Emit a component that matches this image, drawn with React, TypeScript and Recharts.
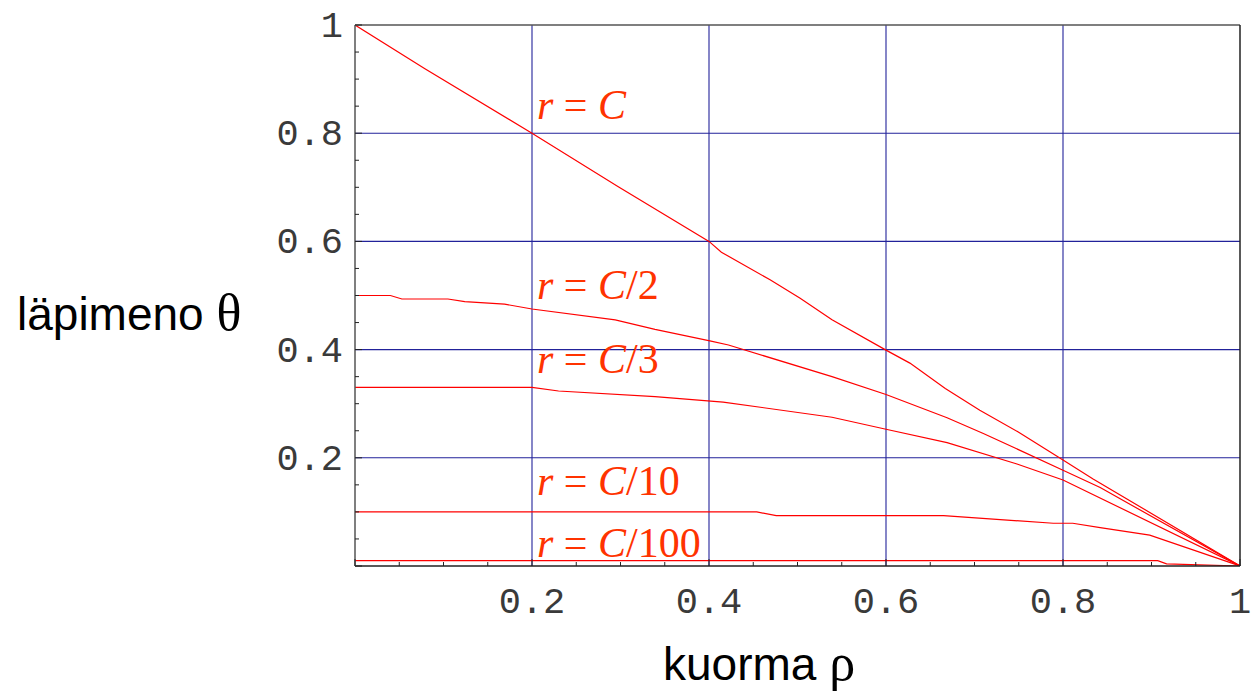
import React from "react";
import { LineChart, Line, XAxis, YAxis, ReferenceLine, ReferenceDot } from "recharts";

// ---- data ----
const rhoC = [0, 0.079, 0.2, 0.2975, 0.4, 0.414, 0.469, 0.503, 0.539, 0.6, 0.627, 0.667, 0.706, 0.749, 0.8, 0.834, 1];
const thetaC = [1, 0.919, 0.8, 0.701, 0.6, 0.58, 0.529, 0.495, 0.455, 0.399, 0.375, 0.328, 0.288, 0.248, 0.196, 0.161, 0];

const rhoC2 = [0, 0.04, 0.053, 0.105, 0.124, 0.169, 0.2, 0.294, 0.339, 0.401, 0.422, 0.539, 0.6, 0.669, 0.71, 0.8, 0.842, 1];
const thetaC2 = [0.5, 0.5, 0.4935, 0.4935, 0.4886, 0.484, 0.475, 0.455, 0.4375, 0.416, 0.4085, 0.35, 0.317, 0.274, 0.245, 0.177, 0.145, 0];

const rhoC3 = [0, 0.2, 0.23, 0.339, 0.416, 0.539, 0.6, 0.669, 0.748, 0.8, 1];
const thetaC3 = [0.33, 0.33, 0.3235, 0.313, 0.303, 0.275, 0.2527, 0.228, 0.1885, 0.159, 0];

const rhoC10 = [0, 0.454, 0.476, 0.665, 0.789, 0.811, 0.842, 0.898, 1];
const thetaC10 = [0.1, 0.1, 0.093, 0.093, 0.079, 0.079, 0.071, 0.057, 0];

const rhoC100 = [0, 0.907, 0.917, 1];
const thetaC100 = [0.01, 0.01, 0.004, 0];

const tickValues = [0, 0.05, 0.1, 0.15, 0.2, 0.25, 0.3, 0.35, 0.4, 0.45, 0.5, 0.55, 0.6, 0.65, 0.7, 0.75, 0.8, 0.85, 0.9, 0.95, 1];
const majorTicks = [0.2, 0.4, 0.6, 0.8, 1];
const tickLabels = ["0.2", "0.4", "0.6", "0.8", "1"];
const gridValues = [0.2, 0.4, 0.6, 0.8];

const curveLabels = [
  { name: "C", x: 0.2056, y: 0.826 },
  { name: "C/2", x: 0.2056, y: 0.493 },
  { name: "C/3", x: 0.2056, y: 0.356 },
  { name: "C/10", x: 0.2056, y: 0.131 },
  { name: "C/100", x: 0.2056, y: 0.017 },
];

const toPts = (xs: number[], ys: number[]) => xs.map((x, i) => ({ x, y: ys[i] }));
const series = [
  toPts(rhoC, thetaC),
  toPts(rhoC2, thetaC2),
  toPts(rhoC3, thetaC3),
  toPts(rhoC10, thetaC10),
  toPts(rhoC100, thetaC100),
];

const FRAME = "#555";
const GRID = "#22229a";
const CURVE = "#ff0000";
const LABEL = "#ff3300";
const MONO = "'Liberation Mono', 'Courier New', monospace";
const SANS = "'Liberation Sans', Arial, sans-serif";
const SERIF = "'Liberation Serif', 'Times New Roman', serif";

const isMajor = (v: number) => Math.abs(v * 5 - Math.round(v * 5)) < 1e-6;
const labelFor = (v: number) => {
  const i = majorTicks.findIndex((m) => Math.abs(m - v) < 1e-6);
  return i >= 0 ? tickLabels[i] : null;
};

const BottomTick = (p: any) => {
  const v = p.payload.value;
  const len = isMajor(v) ? 7 : 4;
  const lab = labelFor(v);
  return (
    <g>
      <line x1={p.x} x2={p.x} y1={p.y} y2={p.y - len} stroke="#222" strokeWidth={1} />
      {lab && (
        <text x={p.x} y={p.y + 47} textAnchor="middle" fontFamily={MONO} fontSize={37} fill="#3a3a3a">
          {lab}
        </text>
      )}
    </g>
  );
};
const TopTick = (p: any) => {
  const len = isMajor(p.payload.value) ? 7 : 4;
  return <line x1={p.x} x2={p.x} y1={p.y} y2={p.y + len} stroke="#222" strokeWidth={1} />;
};
const LeftTick = (p: any) => {
  const v = p.payload.value;
  const len = isMajor(v) ? 7 : 4;
  const lab = labelFor(v);
  return (
    <g>
      <line x1={p.x} x2={p.x + len} y1={p.y} y2={p.y} stroke="#222" strokeWidth={1} />
      {lab && (
        <text x={p.x - 12} y={p.y + 12} textAnchor="end" fontFamily={MONO} fontSize={37} fill="#3a3a3a">
          {lab}
        </text>
      )}
    </g>
  );
};
const RightTick = (p: any) => {
  const len = isMajor(p.payload.value) ? 7 : 4;
  return <line x1={p.x} x2={p.x - len} y1={p.y} y2={p.y} stroke="#222" strokeWidth={1} />;
};

const CurveLabel = (name: string) => (p: any) => (
  <text x={p.cx} y={p.cy} fontFamily={SERIF} fontSize={42} fill={LABEL}>
    <tspan fontStyle="italic">r</tspan>
    <tspan> = </tspan>
    <tspan fontStyle="italic">C</tspan>
    <tspan>{name.slice(1)}</tspan>
  </text>
);

const XTitle = () => (
  <text x={663} y={680} fontFamily={SANS} fontSize={46} fill="#000">
    kuorma <tspan fontFamily={SERIF} fontSize={52}>ρ</tspan>
  </text>
);
const YTitle = () => (
  <text x={17} y={330} fontFamily={SANS} fontSize={46} fill="#000">
    läpimeno <tspan fontFamily={SERIF} fontSize={52}>θ</tspan>
  </text>
);

export default function App() {
  return (
    <div style={{ position: "absolute", left: 0, top: 0, background: "#fff" }}>
      <LineChart width={1251} height={692} margin={{ top: 24, right: 10, left: 295, bottom: 86 }}>
        <XAxis
          xAxisId="b"
          dataKey="x"
          type="number"
          domain={[0, 1]}
          ticks={tickValues}
          interval={0}
          height={40}
          tickSize={0}
          tickMargin={0}
          tickLine={false}
          axisLine={{ stroke: "#222", strokeWidth: 1.5 }}
          tick={<BottomTick />}
          label={{ content: <XTitle /> } as any}
          allowDataOverflow
        />
        <XAxis
          xAxisId="t"
          orientation="top"
          dataKey="x"
          type="number"
          domain={[0, 1]}
          ticks={tickValues}
          interval={0}
          height={1}
          tickSize={0}
          tickMargin={0}
          tickLine={false}
          axisLine={{ stroke: FRAME, strokeWidth: 1.5 }}
          tick={<TopTick />}
        />
        <YAxis
          yAxisId="l"
          type="number"
          domain={[0, 1]}
          ticks={tickValues}
          interval={0}
          width={60}
          tickSize={0}
          tickMargin={0}
          tickLine={false}
          axisLine={{ stroke: FRAME, strokeWidth: 1.5 }}
          tick={<LeftTick />}
          label={{ content: <YTitle /> } as any}
          allowDataOverflow
        />
        <YAxis
          yAxisId="r"
          orientation="right"
          type="number"
          domain={[0, 1]}
          ticks={tickValues}
          interval={0}
          width={1}
          tickSize={0}
          tickMargin={0}
          tickLine={false}
          axisLine={{ stroke: "#222", strokeWidth: 1.5 }}
          tick={<RightTick />}
        />
        {gridValues.map((v) => (
          <ReferenceLine key={"vx" + v} x={v} xAxisId="b" yAxisId="l" stroke={GRID} strokeWidth={1.1} />
        ))}
        {gridValues.map((v) => (
          <ReferenceLine key={"hy" + v} y={v} xAxisId="b" yAxisId="l" stroke={GRID} strokeWidth={1.1} />
        ))}
        {series.map((d, i) => (
          <Line
            key={i}
            data={d}
            dataKey="y"
            xAxisId="b"
            yAxisId="l"
            type="linear"
            stroke={CURVE}
            strokeWidth={1.2}
            dot={false}
            activeDot={false}
            isAnimationActive={false}
          />
        ))}
        {curveLabels.map((c) => (
          <ReferenceDot
            key={c.name}
            x={c.x}
            y={c.y}
            xAxisId="b"
            yAxisId="l"
            r={0}
            shape={CurveLabel(c.name)}
          />
        ))}
      </LineChart>
    </div>
  );
}
